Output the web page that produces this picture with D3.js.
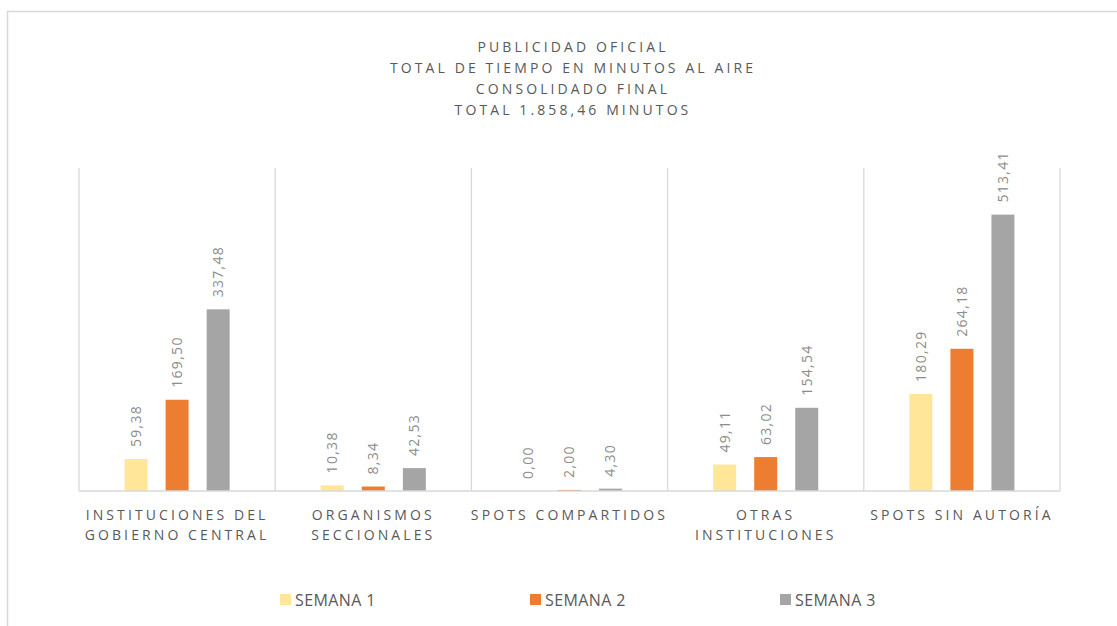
<!DOCTYPE html>
<html>
<head>
<meta charset="utf-8">
<script src="https://cdn.jsdelivr.net/npm/d3@7"></script>
<style>
  body { margin: 0; background: #fff; }
  svg { display: block; font-family: "Open Sans", "Noto Sans", sans-serif; }
</style>
</head>
<body>
<svg id="chart"></svg>
<script>
// data
const categories = [
  ["INSTITUCIONES DEL", "GOBIERNO CENTRAL"],
  ["ORGANISMOS", "SECCIONALES"],
  ["SPOTS COMPARTIDOS"],
  ["OTRAS", "INSTITUCIONES"],
  ["SPOTS SIN AUTORÍA"]
];
const seriesNames = ["SEMANA 1", "SEMANA 2", "SEMANA 3"];
const semana1 = [59.38, 10.38, 0.00, 49.11, 180.29];
const semana2 = [169.50, 8.34, 2.00, 63.02, 264.18];
const semana3 = [337.48, 42.53, 4.30, 154.54, 513.41];
const titleLines = [
  "PUBLICIDAD OFICIAL",
  "TOTAL DE TIEMPO EN MINUTOS AL AIRE",
  "CONSOLIDADO FINAL",
  "TOTAL 1.858,46 MINUTOS"
];
const colors = ["#FFE699", "#ED7D31", "#A5A5A5"];

//config
let width = 1117;
let height = 626;
let margin = { top: 168, bottom: 135, left: 79, right: 57 };
let bodyWidth = width - margin.left - margin.right;
let bodyHeight = height - margin.top - margin.bottom;

let svg = d3.select('#chart')
    .attr('width', width)
    .attr('height', height);

// chart border
svg.append('rect')
    .attr('x', 7.5).attr('y', 11.5)
    .attr('width', width + 20).attr('height', height + 20)
    .attr('fill', 'none')
    .attr('stroke', '#d9d9d9')
    .attr('stroke-width', 1.5);

// title
svg.append('g').selectAll('text')
    .data(titleLines)
    .enter().append('text')
    .attr('x', 573)
    .attr('y', (d, i) => 52 + i * 21)
    .attr('text-anchor', 'middle')
    .attr('fill', '#595959')
    .style('font-size', '14px')
    .style('letter-spacing', '3.1px')
    .text(d => d);

//scales
let catIdx = categories.map((c, i) => i);
let x0 = d3.scaleBand()
    .domain(catIdx)
    .range([0, bodyWidth])
    .padding(0);

let x1 = d3.scaleBand()
    .domain([0, 1, 2])
    .range([0, x0.bandwidth()])
    .paddingInner(0.44)
    .paddingOuter(1.11);

let y = d3.scaleLinear()
    .domain([0, 600])
    .range([bodyHeight, 0]);

let body = svg.append('g')
    .attr('transform', `translate(${margin.left},${margin.top})`);

// category separators
body.append('g').selectAll('line')
    .data(d3.range(categories.length + 1))
    .enter().append('line')
    .attr('x1', d => d * x0.step())
    .attr('x2', d => d * x0.step())
    .attr('y1', 0)
    .attr('y2', bodyHeight)
    .attr('stroke', '#d9d9d9')
    .attr('stroke-width', 1.3);

let rows = catIdx.map(i => ({
    cat: i,
    values: [semana1[i], semana2[i], semana3[i]]
}));

let groups = body.selectAll('.grp')
    .data(rows)
    .enter().append('g')
    .attr('transform', d => `translate(${x0(d.cat)},0)`);

let cells = groups.selectAll('.cell')
    .data(d => d.values.map((v, s) => ({ s, v })))
    .enter();

cells.append('rect')
    .attr('x', d => x1(d.s))
    .attr('width', x1.bandwidth())
    .attr('y', d => y(d.v))
    .attr('height', d => bodyHeight - y(d.v))
    .attr('fill', d => colors[d.s]);

let fmt = v => d3.format('.2f')(v).replace('.', ',');

cells.append('text')
    .attr('transform', d => `translate(${x1(d.s) + x1.bandwidth() / 2},${y(d.v) - 12}) rotate(-90)`)
    .attr('dy', '0.35em')
    .attr('fill', '#8c8c8c')
    .style('font-size', '14px')
    .style('letter-spacing', '1.3px')
    .text(d => fmt(d.v));

// x axis line
body.append('line')
    .attr('x1', 0).attr('x2', bodyWidth)
    .attr('y1', bodyHeight).attr('y2', bodyHeight)
    .attr('stroke', '#d9d9d9')
    .attr('stroke-width', 1.5);

// category labels
let catLabels = body.append('g').selectAll('text')
    .data(rows)
    .enter().append('text')
    .attr('x', d => x0(d.cat) + x0.bandwidth() / 2)
    .attr('y', bodyHeight + 29)
    .attr('text-anchor', 'middle')
    .attr('fill', '#595959')
    .style('font-size', '14px')
    .style('letter-spacing', '3.1px');

catLabels.selectAll('tspan')
    .data(d => categories[d.cat])
    .enter().append('tspan')
    .attr('x', function() { return d3.select(this.parentNode).attr('x'); })
    .attr('dy', (d, i) => i === 0 ? 0 : 20)
    .text(d => d);

// legend
let legendX = d3.scalePoint()
    .domain(seriesNames)
    .range([280, 780]);

let legend = svg.append('g').selectAll('g')
    .data(seriesNames)
    .enter().append('g')
    .attr('transform', d => `translate(${legendX(d)},600)`);

legend.append('rect')
    .attr('x', 0).attr('y', -6)
    .attr('width', 11).attr('height', 11)
    .attr('fill', (d, i) => colors[i]);

legend.append('text')
    .attr('x', 15)
    .attr('y', 6)
    .attr('fill', '#595959')
    .style('font-size', '16px')
    .style('letter-spacing', '0.4px')
    .text(d => d);
</script>
</body>
</html>
